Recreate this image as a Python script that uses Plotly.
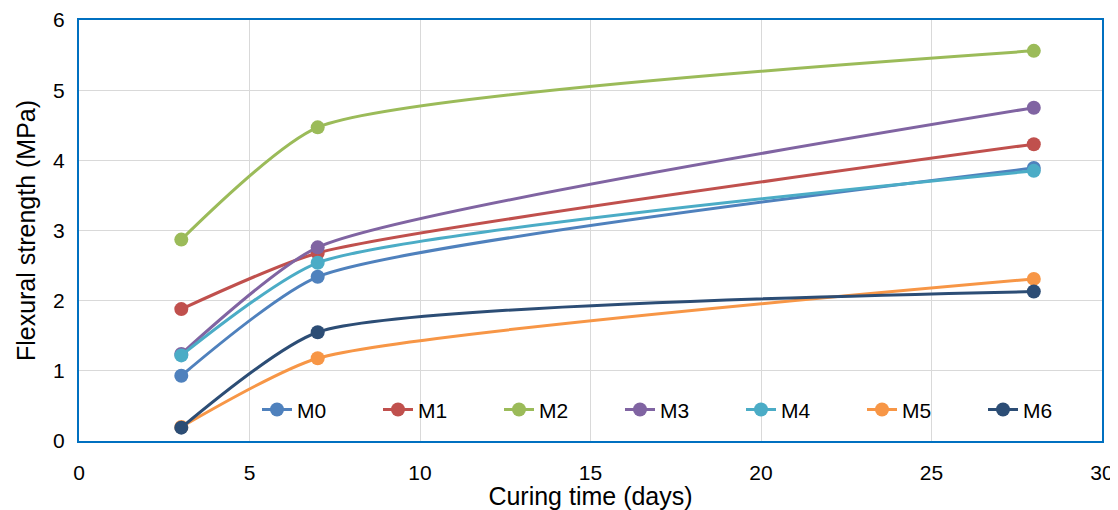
import plotly.graph_objects as go

days = [3, 7, 28]
series_names = ["M0", "M1", "M2", "M3", "M4", "M5", "M6"]
m0 = [0.93, 2.34, 3.89]
m1 = [1.88, 2.68, 4.23]
m2 = [2.87, 4.47, 5.56]
m3 = [1.24, 2.76, 4.75]
m4 = [1.22, 2.54, 3.85]
m5 = [0.20, 1.18, 2.31]
m6 = [0.19, 1.55, 2.13]
values = [m0, m1, m2, m3, m4, m5, m6]
colors = ["#4F81BD", "#C0504D", "#9BBB59", "#8064A2", "#4BACC6", "#F79646", "#2C4D75"]

fig = go.Figure()
for name, vals, c in zip(series_names, values, colors):
    fig.add_trace(go.Scatter(
        x=days, y=vals, name=name, mode="lines+markers",
        line=dict(color=c, width=3, shape="spline", smoothing=0.55),
        marker=dict(color=c, size=14),
    ))

# page body has an 8px default margin, so the figure is offset by 8px
font_family = "Liberation Sans, Arial, sans-serif"
fig.update_layout(
    width=1110, height=502,
    margin=dict(l=71, r=16, t=12, b=69),
    plot_bgcolor="white", paper_bgcolor="white",
    font=dict(family=font_family, size=21, color="#000000"),
    legend=dict(orientation="h", x=0.174, y=0.074, xanchor="left", yanchor="middle",
                bgcolor="rgba(255,255,255,0)", font=dict(size=21),
                entrywidth=76, entrywidthmode="pixels", tracegroupgap=0),
    showlegend=True,
)
fig.update_xaxes(range=[0, 30], dtick=5, showgrid=True, gridcolor="#D9D9D9", gridwidth=1,
                 showline=True, linecolor="#0070C0", linewidth=2, mirror=True,
                 zeroline=False, ticks="outside", ticklen=12, tickcolor="rgba(0,0,0,0)",
                 ticklabeloverflow="allow", automargin=False,
                 title=dict(text="Curing time (days)", font=dict(size=25), standoff=0))
fig.update_yaxes(range=[0, 6], dtick=1, showgrid=True, gridcolor="#D9D9D9", gridwidth=1,
                 showline=True, linecolor="#0070C0", linewidth=2, mirror=True,
                 zeroline=False, ticks="outside", ticklen=8, tickcolor="rgba(0,0,0,0)",
                 ticklabeloverflow="allow", automargin=False,
                 title=dict(text="Flexural strength (MPa)", font=dict(size=25), standoff=10))

fig.write_html("out.html")
